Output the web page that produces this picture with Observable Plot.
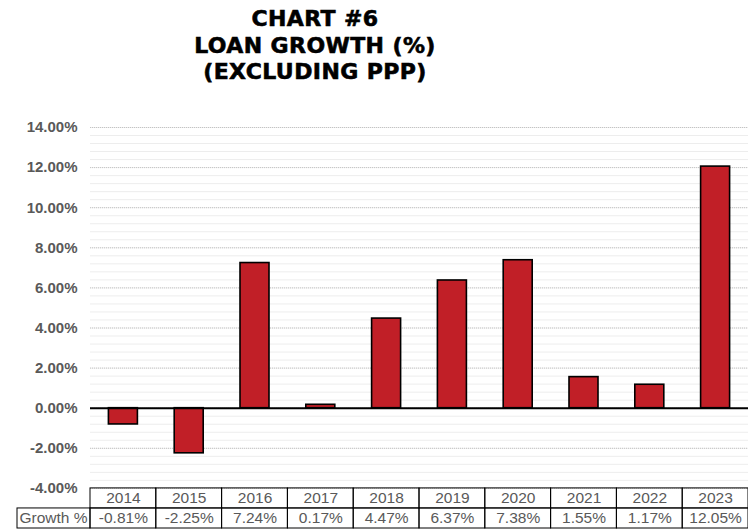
<!DOCTYPE html>
<html><head><meta charset="utf-8">
<script src="https://cdn.jsdelivr.net/npm/d3@7"></script>
<script src="https://cdn.jsdelivr.net/npm/@observablehq/plot@0.6"></script>
<style>
body{margin:0;background:#fff;}
#title{width:630px;height:100px;text-align:center;font-family:"DejaVu Sans";font-weight:bold;font-size:22px;letter-spacing:0.4px;-webkit-text-stroke:0.6px #000;line-height:26.5px;padding-top:6px;box-sizing:border-box;color:#000;}
#chart svg{display:block;}
</style></head><body>
<div id="title">CHART #6<br>LOAN GROWTH (%)<br>(EXCLUDING PPP)</div>
<div id="chart"></div>
<script>
const years = ["2014","2015","2016","2017","2018","2019","2020","2021","2022","2023"];
const growth = [-0.81, -2.25, 7.24, 0.17, 4.47, 6.37, 7.38, 1.55, 1.17, 12.05];
const rowLabel = "Growth %";
const yTicks = [-4, -2, 0, 2, 4, 6, 8, 10, 12, 14];

const data = years.map((y, i) => ({year: y, value: growth[i]}));
const W = 748, ML = 90, MR = 0;
const bw = (W - ML - MR) / years.length;
const barInset = (bw - 29) / 2;
const minor = d3.range(0, 46).map(i => -4 + i * 0.4);
const fmt = d => d.toFixed(2) + "%";
const gray = "#595959";

const chart = Plot.plot({
  width: W,
  height: 429,
  marginLeft: ML,
  marginRight: MR,
  marginTop: 27,
  marginBottom: 1,
  style: {fontFamily: "'Liberation Sans', Arial, sans-serif", background: "#fff"},
  x: {type: "band", domain: years, padding: 0, round: false, axis: null},
  y: {domain: [-6, 14], axis: null},
  marks: [
    Plot.ruleY(minor, {stroke: "#ededed", strokeWidth: 1}),
    Plot.ruleY(yTicks, {stroke: "#c4c4c4", strokeWidth: 1, strokeDasharray: "1,1"}),
    Plot.text(yTicks, {y: d => d, text: fmt, frameAnchor: "left", textAnchor: "end", dx: -13, fill: gray, fontWeight: "bold", fontSize: 15}),
    Plot.barY(data, {x: "year", y: "value", fill: "#C11F27", stroke: "#000", strokeWidth: 1.6, insetLeft: barInset, insetRight: barInset}),
    Plot.ruleY([0], {stroke: "#000", strokeWidth: 2}),
    // data table
    Plot.barY(data, {x: "year", y1: -4, y2: -5, fill: "none", stroke: "#000", strokeWidth: 1}),
    Plot.barY(data, {x: "year", y1: -5, y2: -6, fill: "none", stroke: "#000", strokeWidth: 1}),
    Plot.barY([rowLabel], {x: () => years[0], y1: -5, y2: -6, fill: "none", stroke: "#000", strokeWidth: 1, insetLeft: -73, insetRight: bw}),
    Plot.text(data, {x: "year", y: -4.5, text: "year", fill: gray, fontSize: 15.5}),
    Plot.text(data, {x: "year", y: -5.5, text: d => fmt(d.value), fill: gray, fontSize: 15.5}),
    Plot.text([rowLabel], {y: -5.5, text: d => d, frameAnchor: "left", textAnchor: "start", dx: -71, fill: gray, fontSize: 15.5})
  ]
});
document.getElementById("chart").appendChild(chart);
</script>
</body></html>
